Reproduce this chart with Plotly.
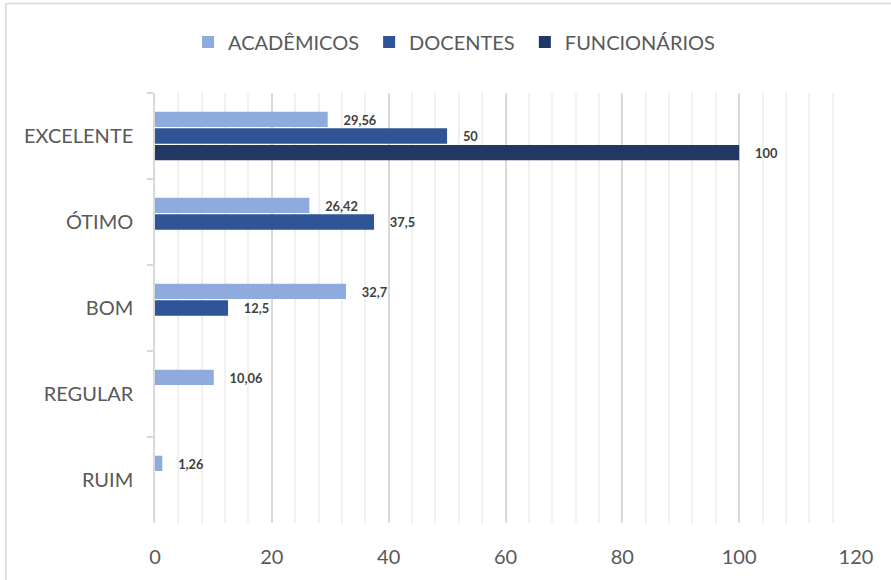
import plotly.graph_objects as go

categories = ["EXCELENTE", "ÓTIMO", "BOM", "REGULAR", "RUIM"]
series_names = ["ACADÊMICOS", "DOCENTES", "FUNCIONÁRIOS"]
academicos = [29.56, 26.42, 32.7, 10.06, 1.26]
docentes = [50, 37.5, 12.5, None, None]
funcionarios = [100, None, None, None, None]
x_ticks = [0, 20, 40, 60, 80, 100, 120]

colors = ["#8faadc", "#2f5597", "#203864"]
values = [academicos, docentes, funcionarios]
PAD = "\u00a0"


def fmt(v):
    if v is None:
        return ""
    s = ("%g" % v).replace(".", ",")
    return "\u2003 " + s


fig = go.Figure()
for name, vals, col in zip(series_names, values, colors):
    fig.add_trace(go.Bar(
        y=categories, x=vals, name=name + PAD, orientation="h",
        marker=dict(color=col, line=dict(width=0)),
        text=[fmt(v) for v in vals],
        textposition="outside",
        textfont=dict(family="Lato, Open Sans, sans-serif", size=16, color="#404040", weight="bold"),
        cliponaxis=False,
        hoverinfo="x+name",
    ))

fig.update_layout(
    width=891, height=580,
    barmode="group", bargap=0.42, bargroupgap=0.08,
    margin=dict(l=155, r=35, t=93, b=57, autoexpand=False),
    paper_bgcolor="white", plot_bgcolor="white",
    font=dict(family="Lato, Open Sans, sans-serif", color="#595959", size=20),
    showlegend=True,
    legend=dict(orientation="h", x=(188 - 155) / 700, xanchor="left", y=(523 - 42) / 430, yanchor="middle",
                font=dict(size=20, color="#595959"), itemwidth=30,
                traceorder="normal"),
    shapes=[dict(type="rect", xref="paper", yref="paper",
                 x0=(6 - 155) / 700, x1=1.2, y0=-0.3, y1=(523 - 3.5) / 430,
                 line=dict(color="#d9d9d9", width=1.5), fillcolor="rgba(0,0,0,0)", layer="below")],
)

fig.update_xaxes(
    range=[0, 120], tickvals=x_ticks, ticktext=[str(t) for t in x_ticks],
    showgrid=True, gridcolor="#d9d9d9", gridwidth=1.5,
    minor=dict(dtick=4, showgrid=True, gridcolor="#f0f0f0", gridwidth=1.5),
    zeroline=False, showline=False, ticks="", automargin=False,
    tickfont=dict(size=20, color="#595959"), ticklabelstandoff=20,
)
fig.update_yaxes(
    autorange="reversed", categoryorder="array", categoryarray=categories,
    showline=True, linecolor="#d9d9d9", linewidth=1.5, automargin=False,
    ticks="outside", tickson="boundaries", ticklen=6, tickcolor="#d9d9d9", tickwidth=1.5,
    showgrid=False, tickfont=dict(size=20, color="#595959"), ticklabelstandoff=16,
)

fig.write_html("out.html", config={"displayModeBar": False},
               post_script="document.body.style.margin='0';")
